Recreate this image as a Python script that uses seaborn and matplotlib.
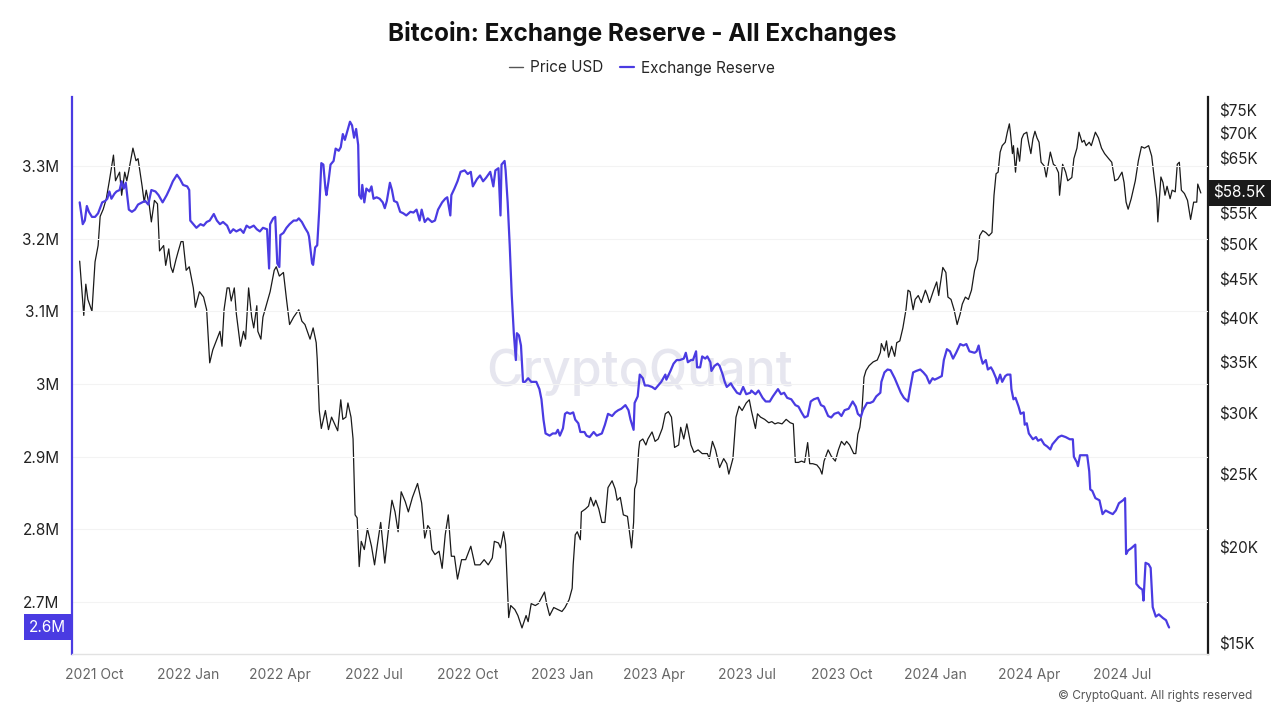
import math
import matplotlib
matplotlib.use('Agg')
import matplotlib.pyplot as plt
import matplotlib.dates as mdates
import matplotlib.transforms as mtransforms
from matplotlib.lines import Line2D
from matplotlib.ticker import FixedLocator, FuncFormatter, NullLocator
import pandas as pd
import seaborn as sns

START = pd.Timestamp('2021-10-01')

# price (USD, thousands) - days counted from 2021-10-01
price_days = [-14, -10, -8, -6, -2, 1, 4, 6, 9, 12, 15, 19, 21, 25, 27, 30, 32, 34, 38, 41,
              43, 47, 49, 51, 54, 56, 59, 62, 64, 68, 70, 73, 75, 77, 80, 82, 85, 87, 90, 93,
              97, 99, 103, 107, 110, 113, 116, 120, 123, 125, 127, 130, 132, 134, 137, 139, 143, 146, 148, 151,
              154, 156, 159, 160, 163, 165, 169, 172, 176, 178, 181, 185, 188, 191, 195, 200, 203, 206, 211, 214,
              217, 218, 220, 222, 226, 229, 232, 235, 238, 241, 243, 246, 248, 251, 253, 255, 257, 259, 261, 264,
              267, 271, 274, 277, 280, 284, 287, 291, 294, 297, 300, 304, 307, 311, 316, 320, 323, 326, 328, 330,
              333, 337, 340, 343, 346, 349, 352, 355, 359, 363, 368, 372, 377, 381, 385, 389, 391, 395, 397, 400,
              402, 404, 405, 407, 411, 414, 418, 422, 424, 427, 431, 434, 436, 440, 442, 445, 449, 453, 457, 460,
              464, 467, 468, 470, 472, 475, 476, 480, 483, 485, 488, 490, 493, 496, 499, 502, 506, 509, 511, 514,
              517, 521, 523, 525, 527, 528, 530, 532, 533, 536, 539, 541, 545, 548, 551, 555, 558, 561, 564, 567,
              571, 573, 576, 579, 583, 586, 590, 594, 599, 601, 604, 607, 611, 615, 618, 620, 624, 627, 630, 633,
              637, 640, 642, 646, 648, 651, 655, 659, 662, 665, 668, 672, 676, 680, 683, 685, 688, 691, 694, 697,
              699, 702, 706, 709, 711, 713, 717, 720, 724, 727, 730, 733, 735, 738, 742, 744, 746, 748, 750, 752,
              754, 757, 761, 765, 768, 769, 772, 774, 776, 779, 782, 784, 787, 790, 793, 795, 797, 800, 802, 805,
              808, 812, 814, 816, 820, 823, 825, 826, 829, 832, 834, 837, 840, 843, 846, 848, 851, 854, 857, 860,
              863, 865, 868, 871, 874, 877, 879, 881, 883, 885, 887, 890, 892, 894, 895, 897, 898, 900, 902, 904,
              906, 908, 911, 913, 915, 917, 919, 921, 923, 925, 928, 930, 932, 934, 937, 939, 942, 943, 946, 949,
              951, 955, 957, 960, 962, 965, 967, 969, 972, 974, 978, 981, 984, 987, 991, 994, 997, 1000, 1004, 1006,
              1008, 1010, 1013, 1017, 1020, 1023, 1026, 1030, 1033, 1035, 1038, 1039, 1042, 1044, 1046, 1048, 1051, 1053, 1056, 1058,
              1060, 1062, 1065, 1068, 1071, 1074, 1077, 1078, 1081]
price_k = [47.6, 40.4, 44.4, 42.4, 40.9, 47.5, 49.9, 54.5, 55.7, 57.5, 60.7, 65.6, 60.7, 62.3, 58.1, 62.3, 60.7, 62.6, 67.0, 64.5,
           64.9, 59.7, 56.9, 59.0, 56.3, 53.6, 57.2, 56.6, 49.1, 49.9, 47.0, 49.4, 46.8, 46.0, 47.8, 48.9, 50.5, 50.5, 46.3, 46.8,
           43.9, 41.4, 43.4, 42.7, 41.1, 35.0, 36.4, 37.6, 38.5, 36.8, 41.1, 43.9, 43.9, 42.2, 43.9, 40.6, 36.8, 38.5, 37.6, 43.9,
           40.2, 38.9, 41.6, 38.5, 37.6, 40.2, 42.0, 43.4, 46.3, 46.8, 45.5, 46.0, 42.4, 39.3, 40.2, 41.1, 39.7, 39.3, 37.6, 38.9,
           37.2, 35.4, 30.3, 28.7, 30.3, 28.6, 29.7, 29.1, 28.5, 31.3, 29.5, 29.7, 31.0, 29.7, 27.8, 22.1, 21.9, 18.9, 20.4, 19.9,
           21.2, 20.1, 19.0, 20.3, 21.6, 19.1, 20.8, 23.1, 22.3, 21.0, 23.7, 23.0, 22.3, 23.3, 24.3, 22.9, 20.6, 21.4, 21.2, 19.9,
           19.6, 19.8, 18.8, 20.8, 22.1, 19.5, 19.5, 18.2, 19.3, 19.3, 20.1, 19.0, 19.0, 19.3, 19.0, 19.4, 20.4, 20.3, 20.0, 21.0,
           20.2, 17.4, 16.2, 16.8, 16.6, 16.3, 15.7, 16.3, 16.0, 16.9, 16.8, 16.9, 17.1, 17.5, 16.9, 16.3, 16.7, 16.6, 16.5, 16.7,
           17.1, 17.7, 19.0, 20.8, 21.0, 20.5, 22.3, 22.5, 22.7, 23.3, 22.7, 23.1, 22.5, 21.6, 21.6, 24.0, 24.5, 23.9, 23.1, 23.3,
           22.1, 22.0, 21.0, 20.0, 21.6, 23.9, 24.4, 26.9, 27.6, 27.8, 27.3, 27.8, 28.4, 27.6, 27.8, 28.7, 30.0, 30.2, 29.7, 27.1,
           27.3, 28.8, 27.8, 29.1, 27.3, 26.7, 26.9, 26.6, 26.6, 26.2, 27.6, 26.9, 25.5, 26.2, 25.8, 25.0, 26.2, 29.7, 30.7, 30.3,
           31.0, 31.3, 30.3, 28.7, 30.0, 29.7, 29.5, 29.2, 29.3, 29.1, 29.2, 29.1, 29.5, 29.2, 29.1, 25.9, 25.9, 26.0, 25.9, 27.5,
           25.8, 25.8, 25.7, 25.4, 25.0, 26.0, 26.9, 26.4, 26.0, 26.9, 27.6, 27.3, 27.6, 27.3, 26.6, 26.6, 28.2, 28.8, 30.3, 33.5,
           34.2, 34.7, 35.1, 35.3, 36.1, 37.1, 36.3, 37.4, 35.6, 36.8, 35.7, 37.2, 37.4, 38.9, 41.1, 43.6, 43.4, 41.1, 42.4, 42.9,
           42.0, 43.6, 42.9, 42.0, 43.6, 44.7, 42.9, 43.9, 46.7, 46.0, 42.7, 42.4, 41.1, 39.3, 40.6, 41.8, 42.7, 42.4, 43.6, 46.3,
           47.8, 51.4, 52.2, 51.9, 51.4, 51.9, 58.1, 62.0, 62.3, 66.2, 67.5, 68.2, 70.3, 72.1, 70.3, 65.9, 67.5, 62.3, 67.0, 64.4,
           68.9, 69.9, 70.3, 67.9, 65.9, 68.9, 70.5, 69.1, 68.2, 64.2, 63.5, 61.4, 63.8, 66.2, 63.8, 63.5, 62.2, 58.1, 63.8, 62.3,
           60.7, 61.3, 64.9, 67.0, 70.3, 68.2, 68.6, 67.5, 68.2, 67.5, 70.3, 69.1, 67.0, 65.9, 64.9, 64.2, 60.7, 61.0, 62.3, 60.4,
           56.9, 55.7, 57.5, 60.7, 64.5, 67.3, 67.0, 67.5, 65.4, 62.0, 57.5, 53.6, 61.4, 60.4, 58.1, 59.7, 57.5, 59.0, 58.7, 63.8,
           64.2, 59.0, 58.4, 57.2, 54.0, 56.9, 56.9, 60.1, 58.5]

# exchange reserve (BTC, millions) - days counted from 2021-10-01
reserve_days = [-14, -11, -9, -7, -5, -2, 1, 4, 8, 11, 13, 15, 17, 20, 22, 25, 27, 29, 31, 34,
                37, 40, 43, 47, 50, 53, 56, 60, 63, 67, 71, 74, 77, 81, 84, 87, 91, 93, 94, 97,
                100, 104, 107, 110, 113, 117, 120, 123, 126, 130, 133, 136, 139, 143, 146, 149, 152, 156, 159, 162,
                165, 169, 171, 172, 175, 177, 179, 181, 182, 185, 188, 191, 195, 198, 200, 203, 206, 209, 210, 213,
                214, 216, 218, 220, 222, 224, 226, 227, 229, 231, 234, 236, 239, 241, 243, 245, 248, 250, 252, 254,
                256, 258, 259, 261, 262, 264, 266, 269, 271, 273, 276, 279, 282, 284, 286, 289, 291, 293, 296, 299,
                302, 305, 309, 312, 315, 318, 320, 323, 326, 330, 333, 336, 340, 343, 345, 348, 349, 352, 355, 358,
                362, 365, 368, 370, 374, 377, 380, 383, 387, 390, 392, 395, 397, 398, 401, 402, 404, 406, 408, 410,
                412, 413, 415, 417, 419, 421, 424, 427, 432, 435, 437, 439, 441, 445, 448, 451, 453, 455, 458, 460,
                462, 465, 468, 470, 473, 475, 479, 481, 484, 488, 491, 496, 499, 502, 506, 509, 512, 515, 519, 522,
                524, 527, 528, 531, 533, 536, 538, 541, 545, 548, 551, 554, 558, 559, 563, 566, 569, 572, 576, 578,
                580, 583, 585, 588, 589, 592, 594, 597, 599, 602, 603, 606, 609, 611, 614, 616, 618, 622, 624, 628,
                631, 634, 637, 641, 642, 646, 649, 653, 656, 660, 663, 668, 671, 674, 677, 681, 685, 688, 691, 694,
                697, 700, 703, 707, 710, 713, 717, 720, 723, 727, 730, 733, 737, 741, 744, 746, 749, 751, 755, 758,
                761, 764, 768, 769, 772, 775, 778, 782, 785, 788, 791, 795, 797, 800, 803, 807, 810, 813, 816, 819,
                821, 824, 828, 830, 833, 836, 839, 842, 846, 849, 852, 855, 860, 862, 864, 866, 868, 871, 873, 876,
                878, 881, 882, 885, 887, 890, 892, 895, 896, 898, 900, 903, 905, 908, 909, 911, 913, 917, 920, 922,
                925, 928, 931, 934, 936, 939, 942, 945, 949, 953, 956, 957, 960, 961, 963, 966, 970, 972, 973, 975,
                978, 982, 985, 988, 992, 995, 998, 1001, 1005, 1007, 1008, 1010, 1013, 1017, 1018, 1021, 1024, 1025, 1027, 1030,
                1032, 1034, 1037, 1040, 1044, 1047, 1049, 1050]
reserve_m = [3.250, 3.220, 3.225, 3.245, 3.237, 3.230, 3.230, 3.235, 3.250, 3.252, 3.255, 3.265, 3.255, 3.262, 3.265, 3.267, 3.279, 3.269, 3.277, 3.240,
             3.237, 3.240, 3.247, 3.250, 3.252, 3.247, 3.267, 3.265, 3.260, 3.250, 3.260, 3.269, 3.279, 3.288, 3.282, 3.274, 3.272, 3.267, 3.225, 3.220,
             3.215, 3.220, 3.218, 3.223, 3.225, 3.234, 3.225, 3.220, 3.223, 3.218, 3.208, 3.213, 3.210, 3.213, 3.208, 3.218, 3.215, 3.218, 3.213, 3.210,
             3.215, 3.213, 3.159, 3.220, 3.228, 3.230, 3.166, 3.161, 3.205, 3.208, 3.215, 3.220, 3.225, 3.225, 3.228, 3.223, 3.215, 3.208, 3.203, 3.166,
             3.164, 3.188, 3.191, 3.240, 3.304, 3.302, 3.269, 3.260, 3.279, 3.302, 3.307, 3.324, 3.321, 3.326, 3.344, 3.336, 3.351, 3.361, 3.356, 3.339,
             3.351, 3.329, 3.260, 3.255, 3.274, 3.250, 3.269, 3.265, 3.272, 3.255, 3.257, 3.255, 3.250, 3.242, 3.252, 3.277, 3.267, 3.252, 3.250, 3.237,
             3.235, 3.232, 3.237, 3.236, 3.240, 3.225, 3.240, 3.223, 3.228, 3.223, 3.225, 3.240, 3.250, 3.255, 3.257, 3.232, 3.260, 3.269, 3.279, 3.292,
             3.294, 3.289, 3.292, 3.272, 3.282, 3.287, 3.279, 3.284, 3.292, 3.272, 3.294, 3.297, 3.232, 3.302, 3.307, 3.294, 3.250, 3.191, 3.122, 3.070,
             3.033, 3.070, 3.067, 3.053, 3.003, 3.003, 3.008, 3.003, 3.003, 2.993, 2.979, 2.951, 2.932, 2.929, 2.932, 2.932, 2.937, 2.929, 2.939, 2.959,
             2.961, 2.959, 2.961, 2.951, 2.946, 2.934, 2.934, 2.929, 2.927, 2.934, 2.929, 2.932, 2.944, 2.959, 2.956, 2.961, 2.964, 2.966, 2.971, 2.964,
             2.951, 2.937, 2.974, 2.983, 3.013, 3.008, 2.998, 2.998, 2.996, 2.993, 2.998, 3.003, 3.013, 3.006, 3.018, 3.028, 3.033, 3.033, 3.035, 3.043,
             3.030, 3.033, 3.033, 3.045, 3.023, 3.023, 3.038, 3.035, 3.038, 3.030, 3.018, 3.025, 3.028, 3.025, 3.013, 3.003, 2.996, 3.001, 2.996, 2.988,
             2.986, 2.996, 2.986, 2.988, 2.991, 2.986, 2.991, 2.981, 2.976, 2.976, 2.983, 2.993, 2.986, 2.988, 2.981, 2.979, 2.971, 2.969, 2.961, 2.954,
             2.956, 2.976, 2.979, 2.981, 2.971, 2.969, 2.956, 2.954, 2.959, 2.961, 2.956, 2.964, 2.966, 2.976, 2.969, 2.959, 2.955, 2.964, 2.974, 2.974,
             2.976, 2.983, 2.988, 3.003, 3.016, 3.020, 3.019, 3.008, 2.998, 2.988, 2.981, 2.976, 2.993, 3.016, 3.018, 3.020, 3.016, 3.011, 3.001, 3.008,
             3.006, 3.008, 3.011, 3.033, 3.048, 3.045, 3.035, 3.043, 3.055, 3.053, 3.055, 3.045, 3.043, 3.045, 3.053, 3.038, 3.028, 3.033, 3.020, 3.023,
             3.018, 3.008, 3.001, 3.013, 3.003, 3.011, 3.013, 3.013, 2.993, 2.979, 2.981, 2.969, 2.959, 2.961, 2.944, 2.946, 2.932, 2.924, 2.927, 2.922,
             2.924, 2.917, 2.914, 2.910, 2.917, 2.922, 2.927, 2.929, 2.927, 2.924, 2.924, 2.900, 2.892, 2.887, 2.902, 2.902, 2.902, 2.880, 2.855, 2.853,
             2.843, 2.840, 2.821, 2.826, 2.823, 2.821, 2.826, 2.836, 2.840, 2.843, 2.766, 2.771, 2.774, 2.779, 2.725, 2.720, 2.717, 2.702, 2.754, 2.752,
             2.747, 2.693, 2.680, 2.683, 2.678, 2.675, 2.668, 2.665]

reserve_ticks = [2.7, 2.8, 2.9, 3.0, 3.1, 3.2, 3.3]
# $60K sits under the last-value badge in the original, so it is left out
price_ticks = [15, 20, 25, 30, 35, 40, 45, 50, 55, 65, 70, 75]

price = pd.DataFrame({'date': START + pd.to_timedelta(price_days, unit='D'), 'price': price_k})
reserve = pd.DataFrame({'date': START + pd.to_timedelta(reserve_days, unit='D'), 'reserve': reserve_m})

BLUE = '#4a3be2'
DARK = '#1a1a1a'

sns.set_style('white')
plt.rcParams['font.family'] = ['Inter', 'DejaVu Sans']

fig = plt.figure(figsize=(12.84, 7.09), dpi=100)
fig.patch.set_facecolor('white')
ax = fig.add_axes([72 / 1284, 1 - 654 / 709, (1208 - 72) / 1284, (654 - 97) / 709])
ax2 = ax.twinx()
# reserve line drawn above price line
ax.set_zorder(ax2.get_zorder() + 1)
ax.patch.set_visible(False)

sns.lineplot(data=price, x='date', y='price', ax=ax2, color=DARK, linewidth=0.9,
             estimator=None, legend=False)
sns.lineplot(data=reserve, x='date', y='reserve', ax=ax, color=BLUE, linewidth=1.6,
             estimator=None, legend=False)

ax.set_xlim(START - pd.Timedelta(days=21.5), START + pd.Timedelta(days=1088))
ax.set_ylim(2.6285, 3.395)
ax2.set_yscale('log')
ax2.set_ylim(14.51, 78.2)

ax.set_xlabel('')
ax.set_ylabel('')
ax2.set_xlabel('')
ax2.set_ylabel('')

ax.xaxis.set_major_locator(mdates.MonthLocator(bymonth=[1, 4, 7, 10]))
ax.xaxis.set_major_formatter(mdates.DateFormatter('%Y %b'))
ax.yaxis.set_major_locator(FixedLocator(reserve_ticks))
ax.yaxis.set_major_formatter(FuncFormatter(lambda v, p: f'{v:g}M'))
ax2.yaxis.set_major_locator(FixedLocator(price_ticks))
ax2.yaxis.set_major_formatter(FuncFormatter(lambda v, p: f'${v:g}K'))
ax2.yaxis.set_minor_locator(NullLocator())

ax.grid(axis='y', color='#f3f3f3', linewidth=0.8)
ax.grid(axis='x', visible=False)
ax2.grid(False)

ax.tick_params(axis='y', length=0, pad=9, labelsize=11, labelcolor='#222222')
ax2.tick_params(axis='y', length=0, pad=8, labelsize=11, labelcolor='#222222')
ax.tick_params(axis='x', length=5, width=0.8, color='#dddddd', pad=5,
               labelsize=10, labelcolor='#666666')

for name in ['top', 'right']:
    ax.spines[name].set_visible(False)
for name in ['top', 'left', 'bottom']:
    ax2.spines[name].set_visible(False)
ax.spines['left'].set_color(BLUE)
ax.spines['left'].set_linewidth(1.6)
ax.spines['bottom'].set_color('#e2e2e2')
ax.spines['bottom'].set_linewidth(1.0)
ax2.spines['right'].set_color(DARK)
ax2.spines['right'].set_linewidth(1.6)

# last value badges
last_res = reserve_m[-1]
last_price = price_k[-1]
ax.annotate(f'{math.floor(last_res * 10) / 10:g}M',
            xy=(0, last_res), xycoords=mtransforms.blended_transform_factory(ax.transAxes, ax.transData),
            xytext=(-4, 0), textcoords='offset points', ha='right', va='center',
            fontsize=11, color='white', annotation_clip=False,
            bbox=dict(boxstyle='square,pad=0.36', fc=BLUE, ec='none'))
ax2.annotate(f'${last_price:g}K',
             xy=(1, last_price), xycoords=mtransforms.blended_transform_factory(ax2.transAxes, ax2.transData),
             xytext=(4, 0), textcoords='offset points', ha='left', va='center',
             fontsize=11, color='white', annotation_clip=False,
             bbox=dict(boxstyle='square,pad=0.36', fc=DARK, ec='none'))

# watermark
ax2.text(0.5, 0.506, 'CryptoQuant', transform=ax2.transAxes, ha='center', va='center',
         fontsize=36, fontweight='medium', color='#e6e6ef', zorder=0)

fig.text(0.5, 1 - 33 / 709, 'Bitcoin: Exchange Reserve - All Exchanges', ha='center', va='center',
         fontsize=17.5, fontweight='bold', color='#111111')

handles = [Line2D([], [], color='#555555', linewidth=1.0),
           Line2D([], [], color=BLUE, linewidth=1.6)]
fig.legend(handles, ['Price USD', 'Exchange Reserve'], loc='center', bbox_to_anchor=(0.5, 1 - 68 / 709),
           ncol=2, frameon=False, fontsize=11, handlelength=0.9, handletextpad=0.45, columnspacing=1.1)

fig.text(1252 / 1284, 1 - 696 / 709, '\u00a9 CryptoQuant. All rights reserved', ha='right', va='center',
         fontsize=8.5, color='#555555')

fig.savefig('out.png', dpi=100, facecolor='white')
